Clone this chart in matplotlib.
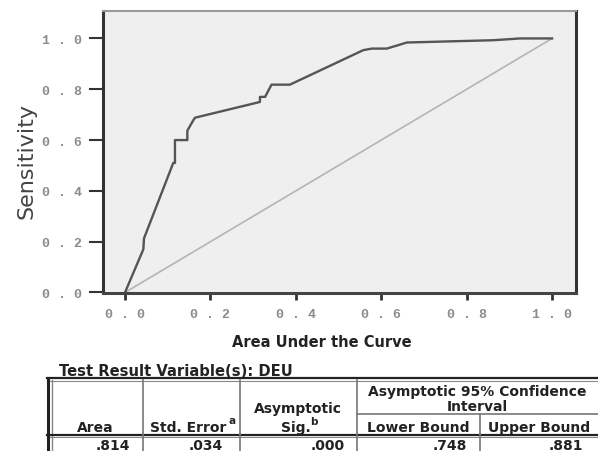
import matplotlib
matplotlib.use("Agg")
import matplotlib.pyplot as plt
from matplotlib.lines import Line2D

# ---- data ----
fpr = [0.0, 0.043, 0.0445, 0.113, 0.117, 0.117, 0.146, 0.146, 0.160, 0.164,
       0.316, 0.316, 0.328, 0.343, 0.386, 0.558, 0.578, 0.613, 0.660, 0.863, 0.925, 1.0]
tpr = [0.0, 0.170, 0.213, 0.510, 0.510, 0.600, 0.600, 0.637, 0.678, 0.688,
       0.750, 0.770, 0.770, 0.818, 0.818, 0.954, 0.960, 0.960, 0.984, 0.993, 1.0, 1.0]
ref_x = [0.0, 1.0]
ref_y = [0.0, 1.0]
ticks = [0.0, 0.2, 0.4, 0.6, 0.8, 1.0]
tick_labels = ["0 . 0", "0 . 2", "0 . 4", "0 . 6", "0 . 8", "1 . 0"]

table_title = "Test Result Variable(s): DEU"
auc_title = "Area Under the Curve"
col_headers = ["Area", "Std. Error", "Sig.", "Lower Bound", "Upper Bound"]
row_values = [".814", ".034", ".000", ".748", ".881"]

W, H = 598, 452
fig = plt.figure(figsize=(W / 100, H / 100), dpi=100)
fig.patch.set_facecolor("white")

# ---- ROC axes ----
L, R, T, B = 103, 576, 12, 294
ax = fig.add_axes([L / W, (H - B) / H, (R - L) / W, (B - T) / H])
ax.set_facecolor("#efefef")
ax.plot(ref_x, ref_y, color="#b4b4b4", lw=1.2, solid_capstyle="butt")
ax.plot(fpr, tpr, color="#555555", lw=1.7)
ax.set_xlim(-0.0515, 1.056)
ax.set_ylim(-0.002, 1.108)
ax.set_xticks(ticks)
ax.set_yticks(ticks)
ax.set_xticklabels(tick_labels, family="Liberation Mono", fontsize=9.5,
                   color="#8c8c8c", fontweight="bold")
ax.set_yticklabels(tick_labels, family="Liberation Mono", fontsize=9.5,
                   color="#8c8c8c", fontweight="bold")
ax.tick_params(axis="y", length=10, width=1.5, color="#333333", pad=5)
ax.tick_params(axis="x", length=5, width=2, color="#333333", pad=6)
for s in ["left", "bottom", "right"]:
    ax.spines[s].set_color("#333333")
    ax.spines[s].set_linewidth(2.2)
ax.spines["bottom"].set_color("#444444")
ax.spines["top"].set_color("#999999")
ax.spines["top"].set_linewidth(1.5)
ax.set_ylabel("Sensitivity", fontsize=16, color="#444444")
ax.yaxis.set_label_coords((37 - L) / (R - L), (B - 161) / (B - T))

# ---- overlay for table ----
ov = fig.add_axes([0, 0, 1, 1], zorder=-1)
ov.set_xlim(0, W)
ov.set_ylim(H, 0)
ov.axis("off")

ov.text(322, 343, auc_title, ha="center", va="center", fontsize=10.5,
        fontweight="bold", color="#222222")
ov.text(59, 372, table_title, ha="left", va="center", fontsize=10.6,
        fontweight="bold", color="#222222")

dark = "#222222"
grey = "#888888"
# outer left double border
ov.add_line(Line2D([48, 48], [379, 452], color=dark, lw=2.2))
ov.add_line(Line2D([51.5, 51.5], [381, 452], color=grey, lw=1.0))
# top double border
ov.add_line(Line2D([47, 598], [379, 379], color=dark, lw=1.6))
ov.add_line(Line2D([50, 598], [381.5, 381.5], color=grey, lw=0.8))
# header bottom double border
ov.add_line(Line2D([47, 598], [435.5, 435.5], color=dark, lw=1.6))
ov.add_line(Line2D([50, 598], [438, 438], color=grey, lw=0.8))
# column separators
for cx in [143, 240, 357]:
    ov.add_line(Line2D([cx, cx], [381, 452], color="#777777", lw=1.2))
ov.add_line(Line2D([480, 480], [415, 452], color="#777777", lw=1.2))
ov.add_line(Line2D([357, 598], [415, 415], color="#777777", lw=1.2))

hf = dict(fontsize=10, fontweight="bold", color=dark, va="center")
sf = dict(fontsize=7.5, fontweight="bold", color=dark, va="center", ha="center")
ov.text(95, 428, col_headers[0], ha="center", **hf)
ov.text(188, 428, col_headers[1], ha="center", **hf)
ov.text(232, 421, "a", **sf)
ov.text(298, 409, "Asymptotic", ha="center", **hf)
ov.text(296, 428, col_headers[2], ha="center", **hf)
ov.text(314, 422, "b", **sf)
ov.text(477, 392, "Asymptotic 95% Confidence", ha="center", **hf)
ov.text(477, 407, "Interval", ha="center", **hf)
ov.text(418, 428, col_headers[3], ha="center", **hf)
ov.text(539, 428, col_headers[4], ha="center", **hf)

rights = [130, 223, 345, 467, 583]
for xr, v in zip(rights, row_values):
    ov.text(xr, 446, v, ha="right", **hf)

fig.savefig("out.png", dpi=100)
